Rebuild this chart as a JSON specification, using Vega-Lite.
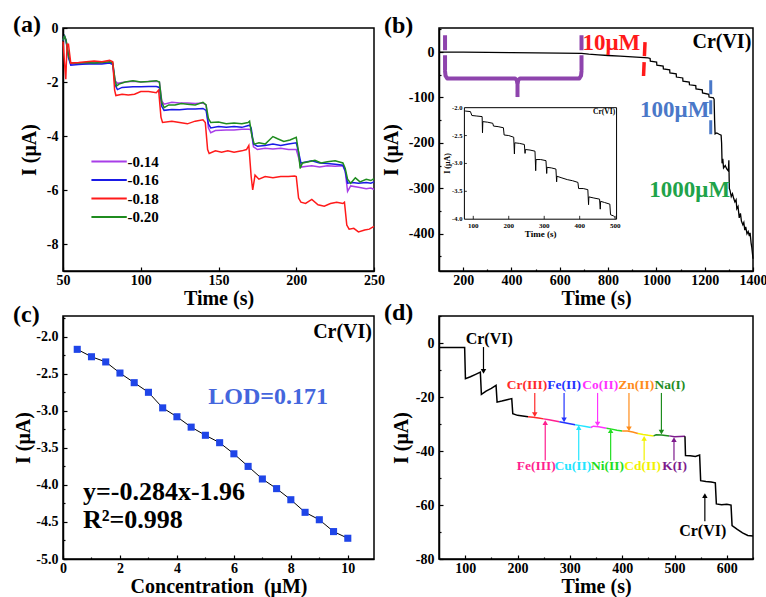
{
"$schema": "https://vega.github.io/schema/vega-lite/v6.json",
"background": "white",
"padding": {"left": 12, "top": 12, "right": 4, "bottom": 2},
"autosize": {"type": "pad"},
"config": {
 "locale": {"number": {"decimal": ".", "thousands": ",", "grouping": [3], "currency": ["$", ""], "minus": "-"}},
 "font": "Liberation Serif",
 "view": {"stroke": "black", "strokeWidth": 1.5},
 "axis": {"grid": false, "domainColor": "black", "domainWidth": 1.5, "tickColor": "black", "tickWidth": 1.2, "tickSize": -4, "labelFont": "Liberation Serif", "labelFontSize": 14, "labelFontWeight": "bold", "labelColor": "black", "titleFont": "Liberation Serif", "titleFontSize": 20, "titleFontWeight": "bold", "titleColor": "black", "labelOverlap": false, "labelFlush": false},
 "axisX": {"titleY": 17, "labelPadding": 6},
 "axisY": {"labelPadding": 9},
 "title": {"font": "Liberation Serif", "fontSize": 24, "fontWeight": "bold", "color": "black", "anchor": "start", "frame": "group", "offset": 0},
 "text": {"font": "Liberation Serif", "fontWeight": "bold"}
},
"datasets": {
 "cal": [
  {"c":0.5,"v":-2.17},{"c":1.0,"v":-2.27},{"c":1.5,"v":-2.34},{"c":2.0,"v":-2.49},{"c":2.5,"v":-2.62},{"c":3.0,"v":-2.75},{"c":3.5,"v":-2.96},{"c":4.0,"v":-3.08},{"c":4.5,"v":-3.22},{"c":5.0,"v":-3.33},{"c":5.5,"v":-3.43},{"c":6.0,"v":-3.58},{"c":6.5,"v":-3.75},{"c":7.0,"v":-3.92},{"c":7.5,"v":-4.05},{"c":8.0,"v":-4.2},{"c":8.5,"v":-4.37},{"c":9.0,"v":-4.47},{"c":9.5,"v":-4.63},{"c":10.0,"v":-4.72}
 ],
 "arrows": [
  {"k":"Cr(VI)","t":135,"v":-1.5,"v2":-10.5,"d":"down"},
  {"k":"Cr(III)","t":233,"v":-18.5,"v2":-26.5,"d":"down"},
  {"k":"Fe(II)","t":289,"v":-18.5,"v2":-28.5,"d":"down"},
  {"k":"Co(II)","t":353,"v":-18.5,"v2":-30,"d":"down"},
  {"k":"Zn(II)","t":413,"v":-18.5,"v2":-31.8,"d":"down"},
  {"k":"Na(I)","t":475,"v":-18.5,"v2":-33,"d":"down"},
  {"k":"Fe(III)","t":253,"v":-43.5,"v2":-29.5,"d":"up"},
  {"k":"Cu(II)","t":317,"v":-43.5,"v2":-31.3,"d":"up"},
  {"k":"Ni(II)","t":378,"v":-43.5,"v2":-32.5,"d":"up"},
  {"k":"Cd(II)","t":442,"v":-43.5,"v2":-35.3,"d":"up"},
  {"k":"K(I)","t":499,"v":-43.5,"v2":-35.8,"d":"up"},
  {"k":"Cr(VI)","t":558,"v":-66,"v2":-56.5,"d":"up"}
 ]
},
"columns": 2,
"spacing": {"row": 45, "column": 65},
"bounds": "flush",
"resolve": {"scale": {"color": "independent", "shape": "independent"}, "legend": {"color": "independent", "shape": "independent"}},
"concat": [
 {
  "title": {"text": "(a)", "dx": -50, "dy": 20},
  "width": 311, "height": 243,
  "data": {"values": [
   {"s":"-0.14","t":50,"v":-0.45},{"s":"-0.14","t":51,"v":-0.3},{"s":"-0.14","t":52,"v":-0.45},{"s":"-0.14","t":53.5,"v":-1.0},{"s":"-0.14","t":55,"v":-1.35},{"s":"-0.14","t":60,"v":-1.3},{"s":"-0.14","t":65,"v":-1.32},{"s":"-0.14","t":70,"v":-1.28},{"s":"-0.14","t":75,"v":-1.3},{"s":"-0.14","t":80,"v":-1.28},{"s":"-0.14","t":82,"v":-1.3},{"s":"-0.14","t":83.5,"v":-1.95},{"s":"-0.14","t":85,"v":-2.05},{"s":"-0.14","t":90,"v":-2.0},{"s":"-0.14","t":95,"v":-1.97},{"s":"-0.14","t":100,"v":-2.0},{"s":"-0.14","t":105,"v":-1.98},{"s":"-0.14","t":110,"v":-1.97},{"s":"-0.14","t":112,"v":-2.0},{"s":"-0.14","t":113.5,"v":-2.7},{"s":"-0.14","t":115,"v":-2.82},{"s":"-0.14","t":120,"v":-2.75},{"s":"-0.14","t":125,"v":-2.78},{"s":"-0.14","t":130,"v":-2.78},{"s":"-0.14","t":135,"v":-2.8},{"s":"-0.14","t":140,"v":-2.78},{"s":"-0.14","t":142,"v":-2.85},{"s":"-0.14","t":143.5,"v":-3.7},{"s":"-0.14","t":145,"v":-3.88},{"s":"-0.14","t":148,"v":-3.8},{"s":"-0.14","t":155,"v":-3.78},{"s":"-0.14","t":160,"v":-3.78},{"s":"-0.14","t":165,"v":-3.75},{"s":"-0.14","t":170,"v":-3.75},{"s":"-0.14","t":171,"v":-3.8},{"s":"-0.14","t":172.5,"v":-4.4},{"s":"-0.14","t":175,"v":-4.5},{"s":"-0.14","t":180,"v":-4.45},{"s":"-0.14","t":185,"v":-4.48},{"s":"-0.14","t":190,"v":-4.45},{"s":"-0.14","t":195,"v":-4.5},{"s":"-0.14","t":200,"v":-4.5},{"s":"-0.14","t":201.5,"v":-4.8},{"s":"-0.14","t":203,"v":-5.15},{"s":"-0.14","t":207,"v":-5.12},{"s":"-0.14","t":210,"v":-5.1},{"s":"-0.14","t":215,"v":-5.15},{"s":"-0.14","t":220,"v":-5.1},{"s":"-0.14","t":225,"v":-5.12},{"s":"-0.14","t":230,"v":-5.1},{"s":"-0.14","t":231.5,"v":-5.3},{"s":"-0.14","t":233,"v":-6.05},{"s":"-0.14","t":235,"v":-5.85},{"s":"-0.14","t":240,"v":-5.9},{"s":"-0.14","t":245,"v":-5.95},{"s":"-0.14","t":248,"v":-5.93},{"s":"-0.14","t":250,"v":-5.98},
   {"s":"-0.16","t":50,"v":-0.45},{"s":"-0.16","t":51,"v":-0.3},{"s":"-0.16","t":52,"v":-0.5},{"s":"-0.16","t":53.5,"v":-1.1},{"s":"-0.16","t":55,"v":-1.38},{"s":"-0.16","t":60,"v":-1.35},{"s":"-0.16","t":65,"v":-1.33},{"s":"-0.16","t":70,"v":-1.32},{"s":"-0.16","t":75,"v":-1.33},{"s":"-0.16","t":80,"v":-1.3},{"s":"-0.16","t":82,"v":-1.35},{"s":"-0.16","t":83.5,"v":-2.1},{"s":"-0.16","t":85,"v":-2.28},{"s":"-0.16","t":88,"v":-2.2},{"s":"-0.16","t":95,"v":-2.18},{"s":"-0.16","t":100,"v":-2.18},{"s":"-0.16","t":105,"v":-2.17},{"s":"-0.16","t":110,"v":-2.17},{"s":"-0.16","t":112,"v":-2.2},{"s":"-0.16","t":113.5,"v":-2.9},{"s":"-0.16","t":115,"v":-3.05},{"s":"-0.16","t":120,"v":-3.02},{"s":"-0.16","t":125,"v":-3.03},{"s":"-0.16","t":130,"v":-3.0},{"s":"-0.16","t":135,"v":-3.0},{"s":"-0.16","t":140,"v":-2.98},{"s":"-0.16","t":142,"v":-3.05},{"s":"-0.16","t":143.5,"v":-3.55},{"s":"-0.16","t":145,"v":-3.7},{"s":"-0.16","t":150,"v":-3.65},{"s":"-0.16","t":155,"v":-3.68},{"s":"-0.16","t":160,"v":-3.65},{"s":"-0.16","t":165,"v":-3.68},{"s":"-0.16","t":170,"v":-3.6},{"s":"-0.16","t":171,"v":-3.7},{"s":"-0.16","t":172.5,"v":-4.3},{"s":"-0.16","t":175,"v":-4.38},{"s":"-0.16","t":180,"v":-4.35},{"s":"-0.16","t":185,"v":-4.3},{"s":"-0.16","t":190,"v":-4.35},{"s":"-0.16","t":195,"v":-4.3},{"s":"-0.16","t":200,"v":-4.25},{"s":"-0.16","t":201.5,"v":-4.6},{"s":"-0.16","t":203,"v":-5.0},{"s":"-0.16","t":207,"v":-4.95},{"s":"-0.16","t":210,"v":-4.92},{"s":"-0.16","t":215,"v":-5.0},{"s":"-0.16","t":220,"v":-5.02},{"s":"-0.16","t":225,"v":-5.05},{"s":"-0.16","t":230,"v":-5.08},{"s":"-0.16","t":231.5,"v":-5.3},{"s":"-0.16","t":233,"v":-5.75},{"s":"-0.16","t":236,"v":-5.72},{"s":"-0.16","t":240,"v":-5.75},{"s":"-0.16","t":245,"v":-5.72},{"s":"-0.16","t":248,"v":-5.75},{"s":"-0.16","t":250,"v":-5.7},
   {"s":"-0.20","t":50,"v":-0.45},{"s":"-0.20","t":51,"v":-0.3},{"s":"-0.20","t":52,"v":-0.45},{"s":"-0.20","t":53.5,"v":-1.0},{"s":"-0.20","t":55,"v":-1.3},{"s":"-0.20","t":60,"v":-1.3},{"s":"-0.20","t":65,"v":-1.28},{"s":"-0.20","t":70,"v":-1.3},{"s":"-0.20","t":75,"v":-1.28},{"s":"-0.20","t":80,"v":-1.25},{"s":"-0.20","t":82,"v":-1.3},{"s":"-0.20","t":83.5,"v":-1.95},{"s":"-0.20","t":84.5,"v":-2.15},{"s":"-0.20","t":86,"v":-2.08},{"s":"-0.20","t":90,"v":-2.0},{"s":"-0.20","t":95,"v":-1.95},{"s":"-0.20","t":100,"v":-2.0},{"s":"-0.20","t":105,"v":-1.98},{"s":"-0.20","t":110,"v":-1.95},{"s":"-0.20","t":112,"v":-2.0},{"s":"-0.20","t":113.5,"v":-2.75},{"s":"-0.20","t":115,"v":-2.95},{"s":"-0.20","t":118,"v":-2.85},{"s":"-0.20","t":122,"v":-2.85},{"s":"-0.20","t":126,"v":-2.8},{"s":"-0.20","t":130,"v":-2.82},{"s":"-0.20","t":135,"v":-2.85},{"s":"-0.20","t":140,"v":-2.75},{"s":"-0.20","t":142,"v":-2.85},{"s":"-0.20","t":143.5,"v":-3.35},{"s":"-0.20","t":145,"v":-3.5},{"s":"-0.20","t":150,"v":-3.48},{"s":"-0.20","t":155,"v":-3.55},{"s":"-0.20","t":160,"v":-3.52},{"s":"-0.20","t":165,"v":-3.55},{"s":"-0.20","t":169,"v":-3.5},{"s":"-0.20","t":170,"v":-3.45},{"s":"-0.20","t":171.5,"v":-4.0},{"s":"-0.20","t":173,"v":-4.3},{"s":"-0.20","t":176,"v":-4.25},{"s":"-0.20","t":180,"v":-4.3},{"s":"-0.20","t":185,"v":-4.02},{"s":"-0.20","t":188,"v":-4.1},{"s":"-0.20","t":192,"v":-4.2},{"s":"-0.20","t":196,"v":-4.15},{"s":"-0.20","t":200,"v":-4.05},{"s":"-0.20","t":201.5,"v":-4.6},{"s":"-0.20","t":202.5,"v":-5.2},{"s":"-0.20","t":204,"v":-5.0},{"s":"-0.20","t":208,"v":-4.95},{"s":"-0.20","t":212,"v":-4.9},{"s":"-0.20","t":216,"v":-5.0},{"s":"-0.20","t":220,"v":-4.95},{"s":"-0.20","t":225,"v":-4.92},{"s":"-0.20","t":230,"v":-5.0},{"s":"-0.20","t":231.5,"v":-5.2},{"s":"-0.20","t":233,"v":-5.6},{"s":"-0.20","t":235,"v":-5.75},{"s":"-0.20","t":238,"v":-5.55},{"s":"-0.20","t":241,"v":-5.7},{"s":"-0.20","t":245,"v":-5.6},{"s":"-0.20","t":248,"v":-5.65},{"s":"-0.20","t":250,"v":-5.58},
   {"s":"-0.18","t":50,"v":-0.5},{"s":"-0.18","t":51,"v":-1.3},{"s":"-0.18","t":51.8,"v":-1.9},{"s":"-0.18","t":52.6,"v":-0.6},{"s":"-0.18","t":53.5,"v":-0.6},{"s":"-0.18","t":55,"v":-1.3},{"s":"-0.18","t":60,"v":-1.28},{"s":"-0.18","t":65,"v":-1.25},{"s":"-0.18","t":70,"v":-1.22},{"s":"-0.18","t":75,"v":-1.25},{"s":"-0.18","t":80,"v":-1.2},{"s":"-0.18","t":82,"v":-1.25},{"s":"-0.18","t":83.2,"v":-2.3},{"s":"-0.18","t":84,"v":-2.5},{"s":"-0.18","t":88,"v":-2.45},{"s":"-0.18","t":92,"v":-2.48},{"s":"-0.18","t":96,"v":-2.45},{"s":"-0.18","t":100,"v":-2.35},{"s":"-0.18","t":105,"v":-2.35},{"s":"-0.18","t":110,"v":-2.4},{"s":"-0.18","t":111.5,"v":-2.3},{"s":"-0.18","t":113,"v":-3.3},{"s":"-0.18","t":114,"v":-3.5},{"s":"-0.18","t":120,"v":-3.45},{"s":"-0.18","t":125,"v":-3.5},{"s":"-0.18","t":130,"v":-3.55},{"s":"-0.18","t":135,"v":-3.45},{"s":"-0.18","t":140,"v":-3.4},{"s":"-0.18","t":141.5,"v":-3.5},{"s":"-0.18","t":143,"v":-4.5},{"s":"-0.18","t":144,"v":-4.65},{"s":"-0.18","t":148,"v":-4.55},{"s":"-0.18","t":152,"v":-4.6},{"s":"-0.18","t":156,"v":-4.55},{"s":"-0.18","t":160,"v":-4.6},{"s":"-0.18","t":165,"v":-4.55},{"s":"-0.18","t":168,"v":-4.5},{"s":"-0.18","t":169.5,"v":-4.35},{"s":"-0.18","t":171,"v":-5.5},{"s":"-0.18","t":172,"v":-6.0},{"s":"-0.18","t":173.5,"v":-5.45},{"s":"-0.18","t":176,"v":-5.6},{"s":"-0.18","t":180,"v":-5.5},{"s":"-0.18","t":185,"v":-5.55},{"s":"-0.18","t":190,"v":-5.5},{"s":"-0.18","t":195,"v":-5.5},{"s":"-0.18","t":199,"v":-5.48},{"s":"-0.18","t":200,"v":-5.5},{"s":"-0.18","t":201.5,"v":-6.3},{"s":"-0.18","t":203,"v":-6.45},{"s":"-0.18","t":206,"v":-6.5},{"s":"-0.18","t":210,"v":-6.35},{"s":"-0.18","t":214,"v":-6.55},{"s":"-0.18","t":218,"v":-6.6},{"s":"-0.18","t":222,"v":-6.5},{"s":"-0.18","t":226,"v":-6.45},{"s":"-0.18","t":230,"v":-6.5},{"s":"-0.18","t":231,"v":-6.45},{"s":"-0.18","t":232.5,"v":-7.3},{"s":"-0.18","t":234,"v":-7.45},{"s":"-0.18","t":237,"v":-7.42},{"s":"-0.18","t":240,"v":-7.55},{"s":"-0.18","t":244,"v":-7.48},{"s":"-0.18","t":247,"v":-7.45},{"s":"-0.18","t":250,"v":-7.35}
  ]},
  "mark": {"type": "line", "strokeWidth": 1.5},
  "encoding": {
   "x": {"field": "t", "type": "quantitative", "scale": {"domain": [50, 250], "nice": false, "zero": false}, "axis": {"values": [50, 100, 150, 200, 250], "format": "d", "title": "Time (s)"}},
   "y": {"field": "v", "type": "quantitative", "scale": {"domain": [-9, 0], "nice": false, "zero": false}, "axis": {"values": [0, -2, -4, -6, -8], "format": "d", "title": "I (μA)", "titleX": -24}},
   "color": {"field": "s", "type": "nominal", "scale": {"domain": ["-0.14", "-0.16", "-0.18", "-0.20"], "range": ["#a83ee8", "#1a1ae6", "#ff1a1a", "#1f8c1f"]},
    "legend": {"orient": "none", "legendX": 37.6, "legendY": 125, "title": null, "symbolType": "M-2.5,0H2.5", "symbolSize": 200, "symbolStrokeWidth": 2, "labelFontSize": 15, "labelFont": "Liberation Serif", "labelFontWeight": "bold", "labelColor": "black", "rowPadding": 1.5, "labelOffset": 10}}
  }
 },
 {
  "title": {"text": "(b)", "dx": -55, "dy": 20},
  "width": 314, "height": 243,
  "layer": [
   {
    "encoding": {
     "x": {"field": "t", "type": "quantitative", "scale": {"domain": [100, 1400], "nice": false, "zero": false}, "axis": {"values": [200, 300, 400, 500, 600, 700, 800, 900, 1000, 1100, 1200, 1300, 1400], "format": "d", "title": "Time (s)", "labelExpr": "datum.value % 200 === 0 ? datum.label : ''", "tickSize": {"condition": {"test": "datum.value % 200 !== 0", "value": -2}, "value": -4}}},
     "y": {"field": "v", "type": "quantitative", "scale": {"domain": [-482, 53], "nice": false, "zero": false}, "axis": {"values": [50, 0, -50, -100, -150, -200, -250, -300, -350, -400, -450], "format": "d", "title": "I (μA)", "titleX": -38, "labelExpr": "datum.value % 100 === 0 ? datum.label : ''", "tickSize": {"condition": {"test": "datum.value % 100 !== 0", "value": -2}, "value": -4}}}
    },
    "layer": [
     {"data": {"values": [
      {"t":100,"v":0},{"t":200,"v":-0.3},{"t":300,"v":-0.7},{"t":400,"v":-1.2},{"t":500,"v":-1.7},{"t":600,"v":-2.3},{"t":690,"v":-3},{"t":720,"v":-4.5},{"t":760,"v":-6},{"t":800,"v":-7.5},{"t":850,"v":-9},{"t":900,"v":-10.5},{"t":950,"v":-12},{"t":965,"v":-13},{"t":974,"v":-14},{"t":975,"v":-20},{"t":1001,"v":-22},{"t":1002,"v":-29},{"t":1028,"v":-31},{"t":1029,"v":-37},{"t":1055,"v":-39},{"t":1056,"v":-46},{"t":1082,"v":-48},{"t":1083,"v":-55},{"t":1109,"v":-57},{"t":1110,"v":-64},{"t":1136,"v":-66},{"t":1137,"v":-72},{"t":1163,"v":-74},{"t":1164,"v":-81},{"t":1190,"v":-83},{"t":1191,"v":-90},{"t":1217,"v":-93},{"t":1218,"v":-99},{"t":1236,"v":-101},{"t":1239,"v":-104},{"t":1241,"v":-150},{"t":1243,"v":-180},{"t":1250,"v":-178},{"t":1260,"v":-181},{"t":1268,"v":-183},{"t":1270,"v":-200},{"t":1272,"v":-245},{"t":1275,"v":-235},{"t":1278,"v":-255},{"t":1285,"v":-250},{"t":1292,"v":-258},{"t":1298,"v":-262},{"t":1300,"v":-238},{"t":1302,"v":-300},{"t":1305,"v":-305},{"t":1310,"v":-318},{"t":1315,"v":-312},{"t":1320,"v":-322},{"t":1325,"v":-330},{"t":1330,"v":-325},{"t":1333,"v":-345},{"t":1338,"v":-340},{"t":1343,"v":-365},{"t":1348,"v":-355},{"t":1352,"v":-372},{"t":1358,"v":-380},{"t":1362,"v":-375},{"t":1366,"v":-392},{"t":1370,"v":-385},{"t":1375,"v":-400},{"t":1380,"v":-395},{"t":1385,"v":-405},{"t":1388,"v":-398},{"t":1392,"v":-420},{"t":1395,"v":-430},{"t":1398,"v":-445},{"t":1400,"v":-455}
     ]}, "mark": {"type": "line", "color": "black", "strokeWidth": 1.3}},
     {"data": {"values": [
      {"t":125,"v":-42},{"t":127,"v":-52},{"t":134,"v":-58},{"t":414,"v":-58},{"t":421,"v":-61},{"t":425,"v":-68},{"t":429,"v":-61},{"t":436,"v":-58},{"t":681,"v":-58},{"t":688,"v":-52},{"t":690,"v":-42}
     ]}, "mark": {"type": "line", "color": "#8e44ad", "strokeWidth": 4, "strokeCap": "round", "strokeJoin": "round"}},
     {"data": {"values": [{"t":125,"v":37,"v2":-42},{"t":690,"v":37,"v2":-42}]}, "mark": {"type": "rule", "color": "#8e44ad", "strokeWidth": 4, "strokeDash": [15, 5]}, "encoding": {"y2": {"field": "v2"}}},
     {"data": {"values": [{"t":425,"v":-62,"v2":-99}]}, "mark": {"type": "rule", "color": "#8e44ad", "strokeWidth": 4}, "encoding": {"y2": {"field": "v2"}}},
     {"data": {"values": [{"t":953,"t2":946,"v":22,"v2":-62}]}, "mark": {"type": "rule", "color": "#ff1a1a", "strokeWidth": 3.5, "strokeDash": [14, 6]}, "encoding": {"x2": {"field": "t2"}, "y2": {"field": "v2"}}},
     {"data": {"values": [{"t":1225,"v":-62,"v2":-186}]}, "mark": {"type": "rule", "color": "#4a78c8", "strokeWidth": 3, "strokeDash": [14, 6]}, "encoding": {"y2": {"field": "v2"}}},
     {"data": {"values": [{"t":814,"v":20,"k":"10μM"},{"t":1076,"v":-127,"k":"100μM"},{"t":1138,"v":-304,"k":"1000μM"},{"t":378,"v":-275,"k":"0.5μM"}]},
      "mark": {"type": "text", "fontSize": 23, "baseline": "middle"},
      "encoding": {"text": {"field": "k"}, "color": {"field": "k", "type": "nominal", "scale": {"domain": ["10μM", "100μM", "1000μM", "0.5μM"], "range": ["#ff1a1a", "#4a78c8", "#1fa34a", "#7e3aa8"]}, "legend": null}}},
     {"data": {"values": [{"t":1393,"v":22,"k":"Cr(VI)"}]}, "mark": {"type": "text", "fontSize": 20, "align": "right", "baseline": "middle", "color": "black"}, "encoding": {"text": {"field": "k"}}}
    ]
   },
   {
    "encoding": {
     "x": {"field": "t", "type": "quantitative", "scale": {"domain": [3.4, 888.6], "nice": false, "zero": false}, "axis": null},
     "y": {"field": "v", "type": "quantitative", "scale": {"domain": [-4.929, -0.571], "nice": false, "zero": false}, "axis": null}
    },
    "layer": [
     {"data": {"values": [{"t":75,"t2":504,"v":-4,"v2":-2}]}, "mark": {"type": "rect", "fill": "white", "stroke": "black", "strokeWidth": 1}, "encoding": {"x2": {"field": "t2"}, "y2": {"field": "v2"}}},
     {"data": {"values": [{"t":100,"v":-4,"v2":-3.94},{"t":200,"v":-4,"v2":-3.94},{"t":300,"v":-4,"v2":-3.94},{"t":400,"v":-4,"v2":-3.94},{"t":500,"v":-4,"v2":-3.94}]}, "mark": {"type": "rule", "color": "black", "strokeWidth": 0.8}, "encoding": {"y2": {"field": "v2"}}},
     {"data": {"values": [{"t":75,"t2":82,"v":-2.5},{"t":75,"t2":82,"v":-3},{"t":75,"t2":82,"v":-3.5}]}, "mark": {"type": "rule", "color": "black", "strokeWidth": 0.8}, "encoding": {"x2": {"field": "t2"}}},
     {"data": {"values": [
      {"t":77,"v":-2.06},{"t":92,"v":-2.07},{"t":96,"v":-2.14},{"t":110,"v":-2.15},{"t":125,"v":-2.16},{"t":126,"v":-2.45},{"t":127,"v":-2.25},{"t":140,"v":-2.26},{"t":155,"v":-2.28},{"t":157,"v":-2.33},{"t":170,"v":-2.34},{"t":185,"v":-2.36},{"t":187,"v":-2.49},{"t":200,"v":-2.5},{"t":214,"v":-2.53},{"t":216,"v":-2.83},{"t":217,"v":-2.63},{"t":230,"v":-2.64},{"t":244,"v":-2.66},{"t":246,"v":-2.82},{"t":247,"v":-2.75},{"t":260,"v":-2.76},{"t":274,"v":-2.78},{"t":276,"v":-3.13},{"t":277,"v":-2.93},{"t":290,"v":-2.93},{"t":305,"v":-2.95},{"t":307,"v":-3.18},{"t":308,"v":-3.07},{"t":320,"v":-3.08},{"t":333,"v":-3.1},{"t":335,"v":-3.33},{"t":336,"v":-3.23},{"t":350,"v":-3.26},{"t":365,"v":-3.29},{"t":380,"v":-3.31},{"t":395,"v":-3.34},{"t":397,"v":-3.45},{"t":410,"v":-3.45},{"t":423,"v":-3.47},{"t":425,"v":-3.74},{"t":426,"v":-3.6},{"t":440,"v":-3.62},{"t":456,"v":-3.64},{"t":458,"v":-3.82},{"t":459,"v":-3.68},{"t":470,"v":-3.7},{"t":485,"v":-3.73},{"t":487,"v":-3.92},{"t":495,"v":-3.94},{"t":500,"v":-3.97}
     ]}, "mark": {"type": "line", "color": "black", "strokeWidth": 1}},
     {"data": {"values": [{"t":100,"v":-4,"lab":"100"},{"t":200,"v":-4,"lab":"200"},{"t":300,"v":-4,"lab":"300"},{"t":400,"v":-4,"lab":"400"},{"t":500,"v":-4,"lab":"500"}]}, "mark": {"type": "text", "fontSize": 7, "baseline": "top", "dy": 3, "color": "black"}, "encoding": {"text": {"field": "lab"}}},
     {"data": {"values": [{"t":75,"v":-2,"lab":"-2.0"},{"t":75,"v":-2.5,"lab":"-2.5"},{"t":75,"v":-3,"lab":"-3.0"},{"t":75,"v":-3.5,"lab":"-3.5"},{"t":75,"v":-4,"lab":"-4.0"}]}, "mark": {"type": "text", "fontSize": 6.5, "align": "right", "dx": -2, "baseline": "middle", "color": "black"}, "encoding": {"text": {"field": "lab"}}},
     {"data": {"values": [{"t":290,"v":-4,"lab":"Time (s)"}]}, "mark": {"type": "text", "fontSize": 9, "baseline": "top", "dy": 11, "color": "black"}, "encoding": {"text": {"field": "lab"}}},
     {"data": {"values": [{"t":29,"v":-3,"lab":"I (μA)"}]}, "mark": {"type": "text", "fontSize": 8, "angle": 270, "baseline": "middle", "color": "black"}, "encoding": {"text": {"field": "lab"}}},
     {"data": {"values": [{"t":500,"v":-2.08,"lab":"Cr(VI)"}]}, "mark": {"type": "text", "fontSize": 7.5, "align": "right", "baseline": "middle", "color": "black"}, "encoding": {"text": {"field": "lab"}}}
    ]
   }
  ],
  "resolve": {"scale": {"x": "independent", "y": "independent"}}
 },
 {
  "title": {"text": "(c)", "dx": -50, "dy": 20},
  "width": 311, "height": 243,
  "encoding": {
   "x": {"field": "c", "type": "quantitative", "scale": {"domain": [0, 10.92], "nice": false, "zero": false}, "axis": {"values": [0, 1, 2, 3, 4, 5, 6, 7, 8, 9, 10], "format": "d", "title": "Concentration\u00a0 (μM)", "labelExpr": "datum.value % 2 === 0 ? datum.label : ''", "tickSize": {"condition": {"test": "datum.value % 2 !== 0", "value": -2}, "value": -4}}},
   "y": {"field": "v", "type": "quantitative", "scale": {"domain": [-5, -1.72], "nice": false, "zero": false}, "axis": {"values": [-1.75, -2, -2.25, -2.5, -2.75, -3, -3.25, -3.5, -3.75, -4, -4.25, -4.5, -4.75, -5], "format": ".1f", "title": "I (μA)", "titleX": -30, "labelExpr": "(datum.value * 4) % 2 === 0 ? datum.label : ''", "tickSize": {"condition": {"test": "(datum.value * 4) % 2 !== 0", "value": -2}, "value": -4}}}
  },
  "layer": [
   {"data": {"name": "cal"}, "mark": {"type": "line", "color": "black", "strokeWidth": 1}},
   {"data": {"name": "cal"}, "mark": {"type": "point", "shape": "square", "filled": true, "color": "#1f45e8", "size": 50, "opacity": 1}},
   {"data": {"values": [{"c":10.85,"v":-1.93,"lab":"Cr(VI)"}]}, "mark": {"type": "text", "fontSize": 20, "align": "right", "baseline": "middle", "color": "black"}, "encoding": {"text": {"field": "lab"}}},
   {"data": {"values": [{"c":7.2,"v":-2.81,"lab":"LOD=0.171"}]}, "mark": {"type": "text", "fontSize": 24, "baseline": "middle", "color": "#4466dd"}, "encoding": {"text": {"field": "lab"}}},
   {"data": {"values": [{"c":0.7,"v":-4.09,"lab":"y=-0.284x-1.96"},{"c":0.7,"v":-4.48,"lab":"R²=0.998"}]}, "mark": {"type": "text", "fontSize": 26, "align": "left", "baseline": "middle", "color": "black"}, "encoding": {"text": {"field": "lab"}}}
  ]
 },
 {
  "title": {"text": "(d)", "dx": -55, "dy": 20},
  "width": 314, "height": 243,
  "encoding": {
   "x": {"field": "t", "type": "quantitative", "scale": {"domain": [50, 650], "nice": false, "zero": false}, "axis": {"values": [50, 100, 150, 200, 250, 300, 350, 400, 450, 500, 550, 600, 650], "format": "d", "title": "Time (s)", "titleY": 17, "labelExpr": "datum.value % 100 === 0 ? datum.label : ''", "tickSize": {"condition": {"test": "datum.value % 100 !== 0", "value": -2}, "value": -4}}},
   "y": {"field": "v", "type": "quantitative", "scale": {"domain": [-80, 10], "nice": false, "zero": false}, "axis": {"values": [10, 0, -10, -20, -30, -40, -50, -60, -70, -80], "format": "d", "title": "I (μA)", "titleX": -28, "labelExpr": "datum.value % 20 === 0 ? datum.label : ''", "tickSize": {"condition": {"test": "datum.value % 20 !== 0", "value": -2}, "value": -4}}}
  },
  "layer": [
   {"data": {"values": [
    {"k":"pre","t":50,"v":-1.7},{"k":"pre","t":99,"v":-1.7},{"k":"pre","t":100.5,"v":-13.2},{"k":"pre","t":110,"v":-12.5},{"k":"pre","t":120,"v":-11.6},{"k":"pre","t":129,"v":-10.8},{"k":"pre","t":131,"v":-19},{"k":"pre","t":140,"v":-17.8},{"k":"pre","t":150,"v":-16.8},{"k":"pre","t":159,"v":-15.7},{"k":"pre","t":161,"v":-21.9},{"k":"pre","t":170,"v":-21.5},{"k":"pre","t":180,"v":-21},{"k":"pre","t":189,"v":-20.6},{"k":"pre","t":191,"v":-26.2},{"k":"pre","t":200,"v":-26.8},{"k":"pre","t":210,"v":-27},{"k":"pre","t":220,"v":-27.3},
    {"k":"Cr(III)","t":220,"v":-27.3},{"k":"Cr(III)","t":230,"v":-27.5},{"k":"Cr(III)","t":240,"v":-27.8},{"k":"Cr(III)","t":250,"v":-28.1},
    {"k":"Fe(III)","t":250,"v":-28.1},{"k":"Fe(III)","t":260,"v":-28.4},{"k":"Fe(III)","t":270,"v":-28.8},{"k":"Fe(III)","t":280,"v":-29.2},
    {"k":"Fe(II)","t":280,"v":-29.2},{"k":"Fe(II)","t":290,"v":-29.5},{"k":"Fe(II)","t":300,"v":-29.9},{"k":"Fe(II)","t":310,"v":-30.3},
    {"k":"Cu(II)","t":310,"v":-30.3},{"k":"Cu(II)","t":320,"v":-30.6},{"k":"Cu(II)","t":330,"v":-30.9},{"k":"Cu(II)","t":340,"v":-31.3},
    {"k":"Co(II)","t":340,"v":-31.3},{"k":"Co(II)","t":345,"v":-30.8},{"k":"Co(II)","t":355,"v":-31.0},{"k":"Co(II)","t":370,"v":-31.6},
    {"k":"Ni(II)","t":370,"v":-31.6},{"k":"Ni(II)","t":380,"v":-31.9},{"k":"Ni(II)","t":390,"v":-32.3},{"k":"Ni(II)","t":400,"v":-32.6},
    {"k":"Zn(II)","t":400,"v":-32.6},{"k":"Zn(II)","t":410,"v":-32.6},{"k":"Zn(II)","t":420,"v":-33.0},{"k":"Zn(II)","t":430,"v":-33.5},
    {"k":"Cd(II)","t":430,"v":-33.5},{"k":"Cd(II)","t":440,"v":-33.9},{"k":"Cd(II)","t":450,"v":-34.2},{"k":"Cd(II)","t":460,"v":-34.4},
    {"k":"Na(I)","t":460,"v":-34.4},{"k":"Na(I)","t":465,"v":-34.0},{"k":"Na(I)","t":475,"v":-34.1},{"k":"Na(I)","t":490,"v":-34.4},
    {"k":"K(I)","t":490,"v":-34.4},{"k":"K(I)","t":500,"v":-34.7},{"k":"K(I)","t":510,"v":-34.6},{"k":"K(I)","t":520,"v":-34.5},
    {"k":"post","t":520,"v":-34.5},{"k":"post","t":521,"v":-41.7},{"k":"post","t":530,"v":-41.8},{"k":"post","t":540,"v":-42.0},{"k":"post","t":548,"v":-41.5},{"k":"post","t":550,"v":-51},{"k":"post","t":560,"v":-51.3},{"k":"post","t":570,"v":-51.5},{"k":"post","t":578,"v":-51.8},{"k":"post","t":580,"v":-59.6},{"k":"post","t":590,"v":-59.9},{"k":"post","t":600,"v":-59.7},{"k":"post","t":608,"v":-60},{"k":"post","t":610,"v":-67.6},{"k":"post","t":620,"v":-69},{"k":"post","t":630,"v":-70.3},{"k":"post","t":640,"v":-71.3},{"k":"post","t":650,"v":-71.5}
   ]}, "mark": {"type": "line", "strokeWidth": 1.5},
    "encoding": {"color": {"field": "k", "type": "nominal", "scale": {"domain": ["pre","Cr(III)","Fe(III)","Fe(II)","Cu(II)","Co(II)","Ni(II)","Zn(II)","Cd(II)","Na(I)","K(I)","post","Cr(VI)"], "range": ["black","#ff2a2a","#ff1f8f","#2233ff","#22e5ff","#ff33ff","#22dd22","#ff8c1a","#f2f200","#1e8c1e","#7d1a8c","black","black"]}, "legend": null}}},
   {"data": {"name": "arrows"}, "mark": {"type": "rule", "strokeWidth": 1.2},
    "encoding": {"y2": {"field": "v2"}, "color": {"field": "k", "type": "nominal", "legend": null}}},
   {"data": {"name": "arrows"}, "mark": {"type": "point", "filled": true, "size": 30, "opacity": 1},
    "encoding": {"y": {"field": "v2", "type": "quantitative", "scale": {"domain": [-80, 10], "nice": false, "zero": false}}, "shape": {"field": "d", "type": "nominal", "scale": {"domain": ["down", "up"], "range": ["triangle-down", "triangle-up"]}, "legend": null}, "color": {"field": "k", "type": "nominal", "legend": null}}},
   {"data": {"values": [
    {"k":"Cr(III)","t":218,"v":-15.5,"lab":"Cr(III)"},{"k":"Fe(II)","t":289,"v":-15.5,"lab":"Fe(II)"},{"k":"Co(II)","t":358,"v":-15.5,"lab":"Co(II)"},{"k":"Zn(II)","t":427,"v":-15.5,"lab":"Zn(II)"},{"k":"Na(I)","t":491,"v":-15.5,"lab":"Na(I)"},
    {"k":"Fe(III)","t":236,"v":-45.5,"lab":"Fe(III)"},{"k":"Cu(II)","t":306,"v":-45.5,"lab":"Cu(II)"},{"k":"Ni(II)","t":372,"v":-45.5,"lab":"Ni(II)"},{"k":"Cd(II)","t":439,"v":-45.5,"lab":"Cd(II)"},{"k":"K(I)","t":500,"v":-45.5,"lab":"K(I)"}
   ]}, "mark": {"type": "text", "fontSize": 13.5, "baseline": "middle"},
    "encoding": {"text": {"field": "lab"}, "color": {"field": "k", "type": "nominal", "legend": null}}},
   {"data": {"values": [{"t":146,"v":1.6,"lab":"Cr(VI)"},{"t":554,"v":-69.5,"lab":"Cr(VI)"}]}, "mark": {"type": "text", "fontSize": 16, "baseline": "middle", "color": "black"},
    "encoding": {"text": {"field": "lab"}}}
  ]
 }
]
}
